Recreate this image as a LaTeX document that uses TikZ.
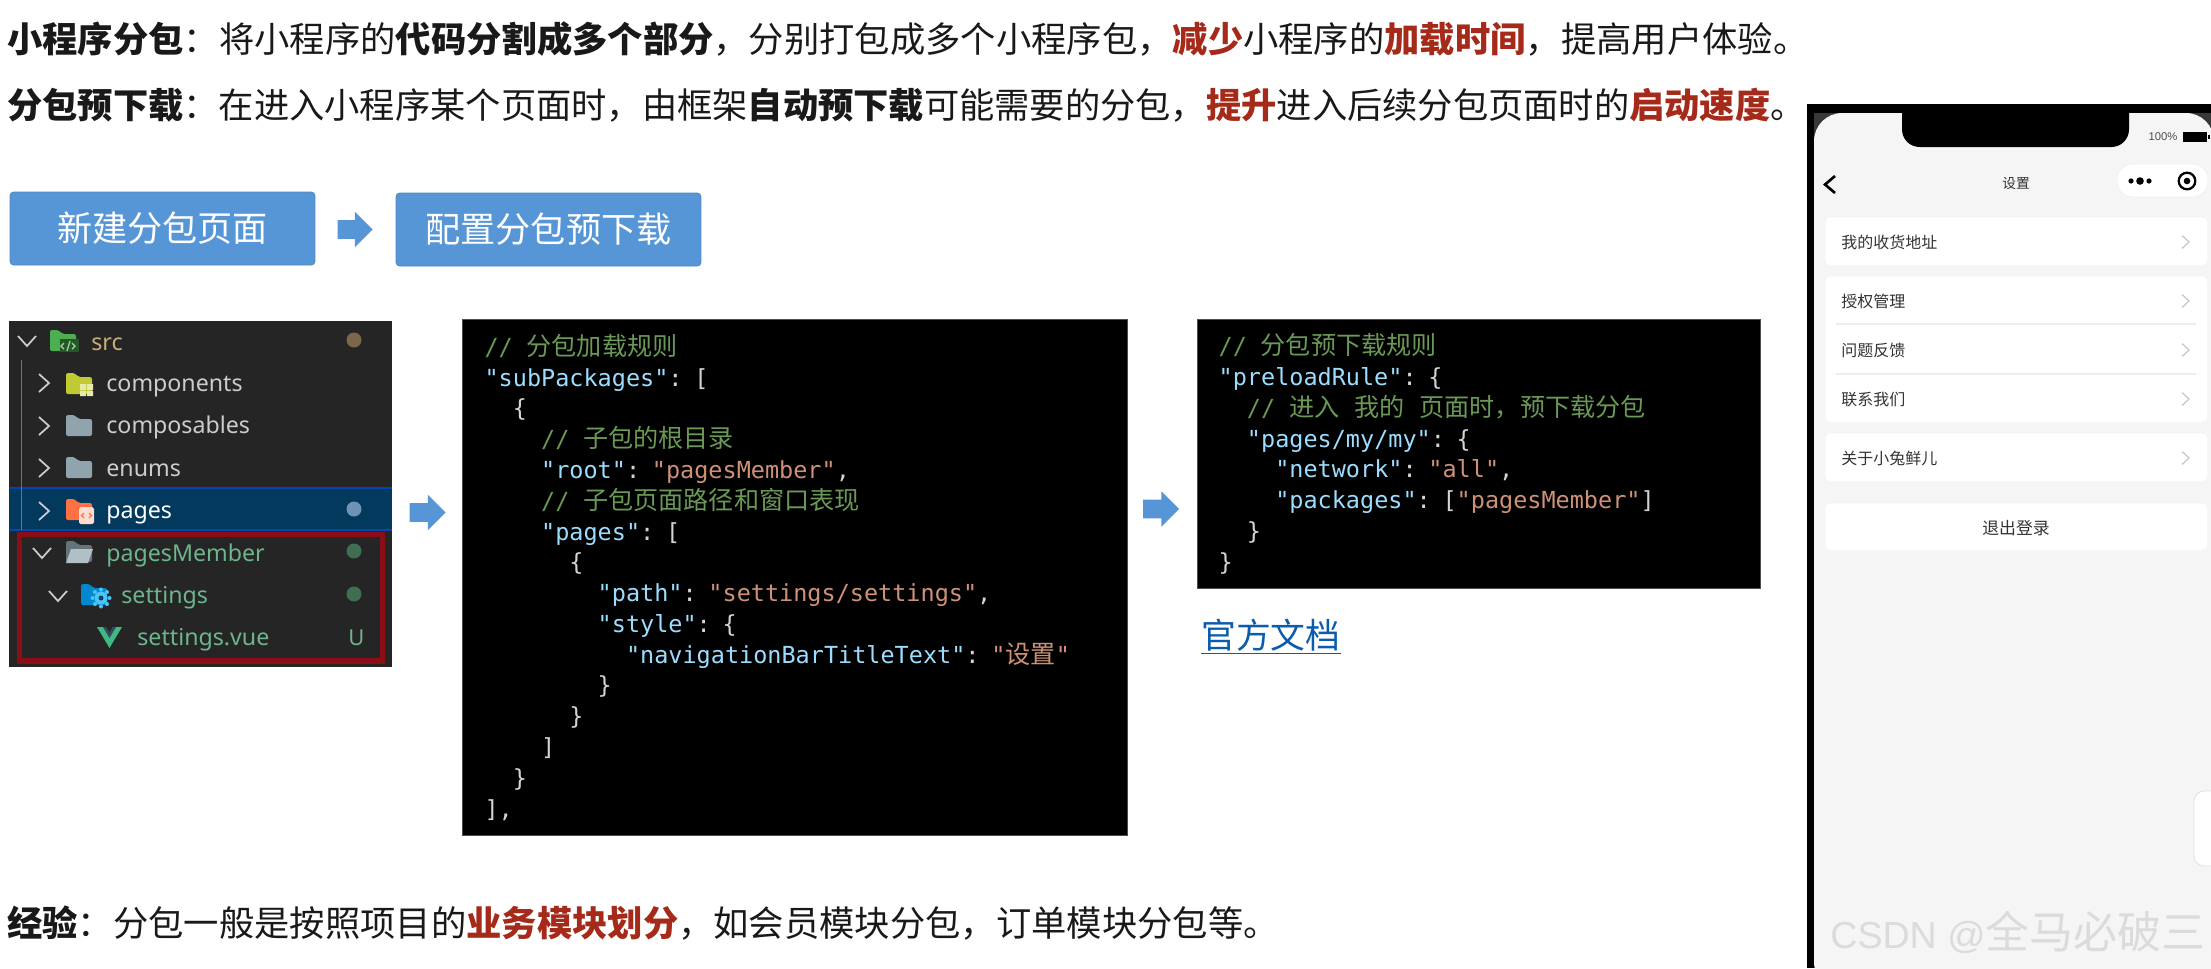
\documentclass[tikz,border=0pt]{standalone}
\usepackage{fontspec}
\usepackage{xcolor}
\usepackage{tikz}
\usetikzlibrary{positioning,arrows.meta,shapes.arrows}
\setmainfont{Noto Sans CJK SC}
\setmonofont{DejaVu Sans Mono}
\newfontfamily\cjkfont[Scale=1.07]{Noto Sans CJK SC}
\newfontfamily\treefont{Noto Sans}
\newfontfamily\arialfont{Liberation Sans}
\definecolor{emred}{HTML}{A52A1A}
\definecolor{btnblue}{HTML}{5796D6}
\definecolor{treebg}{HTML}{252526}
\definecolor{treesel}{HTML}{04395E}
\definecolor{treegreen}{HTML}{6DB58A}
\definecolor{treetan}{HTML}{C9AD7A}
\definecolor{foldergray}{HTML}{90A4AE}
\definecolor{dotsteel}{HTML}{6F93B5}
\definecolor{srcgreen}{HTML}{4CAF50}
\definecolor{compyellow}{HTML}{C0CA33}
\definecolor{pageorange}{HTML}{FF7043}
\definecolor{setblue}{HTML}{0288D1}
\definecolor{gearblue}{HTML}{4FC3F7}
\definecolor{vuegreen}{HTML}{41B883}
\definecolor{vuedark}{HTML}{35495E}
\definecolor{boxred}{HTML}{8B0D15}
\definecolor{cmtgreen}{HTML}{6A9955}
\definecolor{keyblue}{HTML}{9CDCFE}
\definecolor{strorange}{HTML}{CE9178}
\definecolor{punctgray}{HTML}{D4D4D4}
\definecolor{phonebg}{HTML}{F5F5F5}
\definecolor{linkblue}{HTML}{0B5CAD}
\newcommand{\emr}[1]{{\bfseries\color{emred}#1}}
\newcommand{\emb}[1]{{\bfseries #1}}
\newcommand{\cmt}[1]{{\color{cmtgreen}// \hspace{3.4pt}\cjkfont #1}}
\newcommand{\ckey}[1]{{\color{keyblue}"#1"}}
\newcommand{\cstr}[1]{{\color{strorange}"#1"}}
\newcommand{\ind}[1]{\hspace*{#1\dimexpr 8.05pt\relax}}
\newcommand{\cgap}{\hspace{8.5pt}}
\begin{document}
\begin{tikzpicture}[
    x=0.02cm, y=-0.02cm,
    every node/.style={inner sep=0pt},
    para/.style={anchor=base west, font=\fontsize{20.1}{24}\selectfont, text=black!90},
    box/.style={draw=btnblue!90!black, rounded corners=2pt, minimum width=6.1cm, minimum height=1.46cm,
                fill=btnblue, text=white, font=\fontsize{20}{24}\selectfont},
    arr/.style={single arrow, fill=btnblue, minimum height=0.72cm, minimum width=0.7cm,
                inner ysep=0.18cm, single arrow head extend=0.17cm},
    codebox/.style={fill=black, draw=black!70, line width=0.3pt, anchor=north west, align=left, inner xsep=11.5pt,
                    text=punctgray, font=\ttfamily\fontsize{13.37}{17.52}\selectfont},
    treerow/.style={anchor=base west, font=\treefont\fontsize{13.2}{16}\selectfont, text=black!20},
    treegrn/.style={treerow, text=treegreen},
    tchev/.style={draw=black!20, line width=1pt},
    tdot/.style={circle, minimum size=0.3cm},
    folderic/.pic={\path[pic actions, rounded corners=1.2pt] (0,0) -- (0,21) -- (26,21) -- (26,4) -- (12,4) -- (9,0) -- cycle;},
    card/.style={fill=white, rounded corners=3pt, anchor=north west, minimum width=7.64cm},
    phonetxt/.style={anchor=west, font=\fontsize{9.1}{11}\selectfont, text=black!80},
    pchev/.style={draw=black!22, line width=0.7pt},
]
\clip (0,0) rectangle (2211,968);
\node[para] (introa) at (7,52) {\emb{小程序分包}：将小程序的\emb{代码分割成多个部分}，分别打包成多个小程序包，\emr{减少}小程序的\emr{加载时间}，提高用户体验。};
\node[para, font=\fontsize{20.07}{24}\selectfont] (introb) at (7,118) {\emb{分包预下载}：在进入小程序某个页面时，由框架\emb{自动预下载}可能需要的分包，\emr{提升}进入后续分包页面时的\emr{启动速度}。};
\node[para] (tipline) at (7,936) {\emb{经验}：分包一般是按照项目的\emr{业务模块划分}，如会员模块分包，订单模块分包等。};

\node[box] (newpage) at (162.5,228.5) {新建分包页面};
\node[box] (preconf) at (548.5,229.5) {配置分包预下载};
\node[arr, minimum height=0.7cm] (arrtop) at (350.5,229.5) {};

\fill[treebg] (9,321) rectangle (392,667);
\fill[treesel] (9,488) rectangle (392,530);
\draw[blue!60!cyan!70!black, line width=0.6pt] (9,488) -- (392,488) (9,530) -- (392,530);
\draw[black!55, line width=0.5pt] (21,360) -- (21,530);
\draw[boxred, line width=3pt] (19.5,534.5) rectangle (382.5,661);

\draw[tchev] (18,336) -- (27,346) -- (36,336);
\foreach \ry in {383,426,468,511} {\draw[tchev] (39,\ry-9) -- (49,\ry) -- (39,\ry+9);}
\draw[tchev] (33,548) -- (42,558) -- (51,548);
\draw[tchev] (49,591) -- (58,601) -- (67,591);

\pic[fill=srcgreen] at (50,330) {folderic};
\fill[srcgreen!50!black] (60,339) rectangle (79,352);
\draw[srcgreen!60!white, line width=0.8pt] (64,343) -- (61,346) -- (64,349) (72,343) -- (75,346) -- (72,349) (70,341) -- (67,351);
\pic[fill=compyellow] at (66,373) {folderic};
\fill[compyellow!40!white] (80,384) rectangle (86,390) (87,384) rectangle (93,390) (80,391) rectangle (86,396) (87,391) rectangle (93,396);
\pic[fill=foldergray] at (66,415) {folderic};
\pic[fill=foldergray] at (66,457) {folderic};
\pic[fill=pageorange] at (66,499) {folderic};
\fill[pageorange!25!white, rounded corners=1pt] (79,507) rectangle (94,524);
\draw[pageorange, line width=0.7pt] (84,513) -- (81.5,515.5) -- (84,518) (89,513) -- (91.5,515.5) -- (89,518);
\pic[fill=foldergray!70!black] at (66,541) {folderic};
\fill[foldergray!70!white] (71,549) -- (93,549) -- (88,563) -- (66,563) -- cycle;
\pic[fill=setblue] at (81,584) {folderic};
\fill[gearblue] (101,598) circle (6.5);
\foreach \ga in {0,45,...,315} {\fill[gearblue] (101,598) ++(\ga:8.5) circle (2);}
\fill[setblue!50!black] (101,598) circle (2.5);
\fill[vuegreen] (97,627) -- (122,627) -- (109.5,648) -- cycle;
\fill[vuedark] (103,627) -- (116,627) -- (109.5,638) -- cycle;
\fill[treebg] (106.5,627) -- (112.5,627) -- (109.5,632) -- cycle;

\node[treerow, text=treetan] (rowsrc) at (91,350) {src};
\node[treerow] (rowcomp) at (106,391) {components};
\node[treerow] (rowcomposable) at (106,433) {composables};
\node[treerow] (rowenums) at (106,476) {enums};
\node[treerow, text=white] (rowpages) at (106,518) {pages};
\node[treegrn] (rowmember) at (106,561) {pagesMember};
\node[treegrn] (rowsettings) at (121,603) {settings};
\node[treegrn] (rowvue) at (137,645) {settings.vue};
\node[tdot, fill=treetan!60!black] (dotsrc) at (354,340) {};
\node[tdot, fill=dotsteel] (dotpages) at (354,509) {};
\node[tdot, fill=treegreen!60!black] (dotmember) at (354,551) {};
\node[tdot, fill=treegreen!60!black] (dotsettings) at (354,594) {};
\node[treegrn, font=\treefont\fontsize{12.5}{15}\selectfont] (rowu) at (348,645) {U};

\node[arr] (arrtree) at (423,512.5) {};
\node[arr] (arrcode) at (1156.5,509) {};

\node[codebox, minimum width=13.3cm, minimum height=10.32cm, text width=353pt] (subpkg) at (462,319) {%
\cmt{分包加载规则}\\
\ckey{subPackages}: [\\
\ind{2}\{\\
\ind{4}\cmt{子包的根目录}\\
\ind{4}\ckey{root}: \cstr{pagesMember},\\
\ind{4}\cmt{子包页面路径和窗口表现}\\
\ind{4}\ckey{pages}: [\\
\ind{6}\{\\
\ind{8}\ckey{path}: \cstr{settings/settings},\\
\ind{8}\ckey{style}: \{\\
\ind{10}\ckey{navigationBarTitleText}: {\color{strorange}"{\cjkfont 设置}"}\\
\ind{8}\}\\
\ind{6}\}\\
\ind{4}]\\
\ind{2}\}\\
],};
\node[codebox, minimum width=11.26cm, minimum height=5.38cm, text width=296pt] (prerule) at (1197,319) {%
\cmt{分包预下载规则}\\
\ckey{preloadRule}: \{\\
\ind{2}\cmt{进入\cgap 我的\cgap 页面时，预下载分包}\\
\ind{2}\ckey{pages/my/my}: \{\\
\ind{4}\ckey{network}: \cstr{all},\\
\ind{4}\ckey{packages}: [\cstr{pagesMember}]\\
\ind{2}\}\\
\}};
\node[para, font=\fontsize{19.8}{24}\selectfont, text=linkblue] (doclink) at (1201,648) {\underline{官方文档}};

\fill[black] (1807,104) rectangle (2211,968);
\fill[black!78] (1814,113) rectangle (2211,160);
\fill[phonebg, rounded corners=16pt] (1814,990) -- (1814,113) -- (2214,113) -- (2214,990) -- cycle;
\fill[black] (1902,105) [rounded corners=10pt] -- (1902,147) -- (2129,147) [sharp corners] -- (2129,105) -- cycle;
\node[anchor=center, font=\arialfont\fontsize{6.4}{8}\selectfont, text=black!70] (battxt) at (2163,137) {100\%};
\fill[black] (2183,132) rectangle (2207,142);
\fill[black] (2208,135) rectangle (2210,139);
\draw[black, line width=1.5pt] (1835,176) -- (1825,184.5) -- (1835,193);
\node[font=\fontsize{7.8}{10}\selectfont, text=black!80] (pagetitle) at (2016,183) {设置};
\fill[white, draw=black!6, rounded corners=9pt] (2117,164) rectangle (2208,197);
\fill[black] (2131,181) circle (2.6) (2140,181) circle (3.8) (2149,181) circle (2.6);
\draw[black, line width=1.3pt] (2187,181) circle (8.3);
\fill[black] (2187,181) circle (3.3);

\node[card, minimum height=0.96cm] (carda) at (1825,217) {};
\node[card, minimum height=2.92cm] (cardb) at (1825,276) {};
\node[card, minimum height=0.96cm] (cardc) at (1825,433) {};
\node[card, minimum height=0.94cm] (cardd) at (1825,503) {};
\draw[black!7, line width=0.6pt] (1836,324) -- (2196,324) (1836,374) -- (2196,374);
\node[phonetxt] (itemaddr) at (1841,242) {我的收货地址};
\node[phonetxt] (itemauth) at (1841,301) {授权管理};
\node[phonetxt] (itemfeed) at (1841,350) {问题反馈};
\node[phonetxt] (itemcontact) at (1841,399) {联系我们};
\node[phonetxt] (itemabout) at (1841,458) {关于小兔鲜儿};
\node[phonetxt, anchor=center, font=\fontsize{9.6}{12}\selectfont] (itemlogout) at (2016,528) {退出登录};
\foreach \ry in {242,301,350,399,458} {\draw[pchev] (2182,\ry-6.5) -- (2189,\ry) -- (2182,\ry+6.5);}

\fill[white, draw=black!12, line width=0.4pt, rounded corners=6pt] (2194,791) rectangle (2240,866);
\node[anchor=base west, font=\arialfont\fontsize{21.4}{26}\selectfont, text=black!14] (watermark) at (1830,948) {CSDN @{\fontsize{23.4}{26}\selectfont\cjkfont 全马必破三}};
\end{tikzpicture}
\end{document}
